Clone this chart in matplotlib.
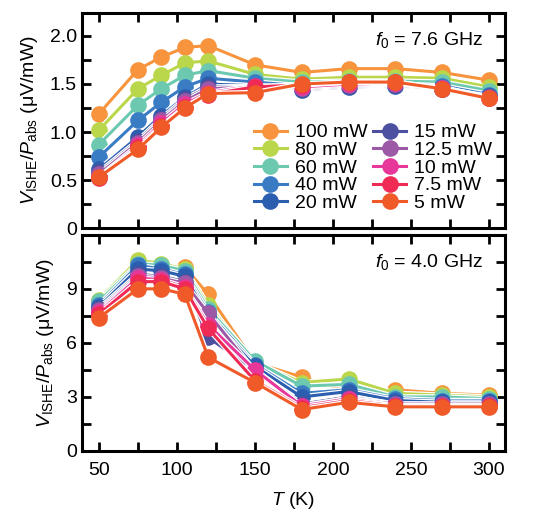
import matplotlib
matplotlib.use("Agg")
import matplotlib.pyplot as plt
from matplotlib.ticker import MultipleLocator

plt.rcParams['font.family'] = ['Liberation Sans', 'DejaVu Sans']
plt.rcParams['mathtext.fontset'] = 'custom'
plt.rcParams['mathtext.rm'] = 'Liberation Sans'
plt.rcParams['mathtext.it'] = 'Liberation Sans:italic'
plt.rcParams['font.size'] = 14

T = [50, 75, 90, 105, 120, 150, 180, 210, 240, 270, 300]
powers = ['100 mW', '80 mW', '60 mW', '40 mW', '20 mW',
          '15 mW', '12.5 mW', '10 mW', '7.5 mW', '5 mW']
colors = ['#F7943D', '#BAD64A', '#6CC9B0', '#3A7CC4', '#2B5EAE',
          '#4D4FA0', '#9B59A6', '#E8379A', '#EE2A55', '#F05A28']

# f0 = 7.6 GHz
v76_100 = [1.19, 1.65, 1.78, 1.88, 1.90, 1.70, 1.62, 1.66, 1.66, 1.62, 1.54]
v76_80 = [1.02, 1.45, 1.59, 1.72, 1.74, 1.60, 1.55, 1.57, 1.57, 1.56, 1.47]
v76_60 = [0.87, 1.28, 1.45, 1.59, 1.64, 1.56, 1.52, 1.53, 1.53, 1.52, 1.43]
v76_40 = [0.74, 1.12, 1.31, 1.47, 1.56, 1.52, 1.48, 1.50, 1.50, 1.48, 1.39]
v76_20 = [0.61, 0.95, 1.17, 1.36, 1.50, 1.48, 1.44, 1.47, 1.48, 1.45, 1.37]
v76_15 = [0.58, 0.91, 1.14, 1.34, 1.47, 1.47, 1.45, 1.48, 1.49, 1.45, 1.36]
v76_12 = [0.56, 0.89, 1.12, 1.32, 1.45, 1.47, 1.46, 1.49, 1.50, 1.46, 1.36]
v76_10 = [0.53, 0.86, 1.09, 1.29, 1.41, 1.48, 1.47, 1.50, 1.51, 1.46, 1.35]
v76_7 = [0.52, 0.84, 1.06, 1.26, 1.39, 1.47, 1.49, 1.52, 1.52, 1.45, 1.35]
v76_5 = [0.53, 0.82, 1.05, 1.25, 1.40, 1.41, 1.50, 1.52, 1.52, 1.45, 1.35]
data76 = [v76_100, v76_80, v76_60, v76_40, v76_20,
          v76_15, v76_12, v76_10, v76_7, v76_5]

# f0 = 4.0 GHz
v40_100 = [8.3, 10.5, 10.3, 10.2, 8.7, 4.9, 4.1, 3.3, 3.4, 3.2, 3.1]
v40_80 = [8.4, 10.6, 10.4, 10.1, 8.1, 4.9, 3.8, 4.0, 3.2, 3.1, 3.0]
v40_60 = [8.3, 10.4, 10.3, 10.0, 7.9, 5.0, 3.6, 3.7, 3.0, 3.0, 2.9]
v40_40 = [8.1, 10.3, 10.1, 9.8, 7.7, 4.8, 3.2, 3.4, 2.9, 2.8, 2.8]
v40_20 = [8.0, 10.1, 10.0, 9.7, 7.5, 4.7, 3.0, 3.3, 2.8, 2.7, 2.7]
v40_15 = [7.9, 9.8, 9.7, 9.4, 6.3, 4.5, 2.6, 3.0, 2.6, 2.6, 2.6]
v40_12 = [7.8, 9.7, 9.6, 9.3, 7.65, 4.4, 2.5, 2.9, 2.6, 2.6, 2.6]
v40_10 = [7.7, 9.6, 9.5, 9.1, 7.0, 4.5, 2.5, 2.9, 2.5, 2.5, 2.5]
v40_7 = [7.6, 9.4, 9.4, 9.0, 6.8, 3.9, 2.4, 2.8, 2.5, 2.5, 2.5]
v40_5 = [7.4, 9.0, 9.0, 8.7, 5.2, 3.8, 2.3, 2.7, 2.45, 2.45, 2.45]
data40 = [v40_100, v40_80, v40_60, v40_40, v40_20,
          v40_15, v40_12, v40_10, v40_7, v40_5]

fig = plt.figure(figsize=(5.49, 5.16), dpi=100)
ax1 = fig.add_axes([0.149, 0.558, 0.770, 0.417])
ax2 = fig.add_axes([0.149, 0.126, 0.770, 0.419])

for ax, data in [(ax1, data76), (ax2, data40)]:
    for i, (vals, c, lab) in enumerate(zip(data, colors, powers)):
        # thin white rim under each line
        ax.plot(T, vals, color='white', lw=4.0, zorder=2 * i + 2)
        ax.plot(T, vals, '-o', color=c, lw=2.2, ms=12, mec='none',
                zorder=2 * i + 3, label=lab)
    ax.set_xlim(39, 310)
    ax.xaxis.set_major_locator(MultipleLocator(50))
    ax.xaxis.set_minor_locator(MultipleLocator(25))
    ax.tick_params(which='both', direction='in', top=True, right=True,
                   length=6.5, width=2)
    ax.tick_params(axis='x', pad=8)
    for s in ax.spines.values():
        s.set_linewidth(2.2)
    ax.set_ylabel(r'$V_{\rm ISHE}/P_{\rm abs}$ (μV/mW)', labelpad=7)

ax1.set_ylim(0, 2.24)
ax1.yaxis.set_minor_locator(MultipleLocator(0.25))
ax1.set_yticks([0, 0.5, 1.0, 1.5, 2.0])
ax1.set_yticklabels(['0', '0.5', '1.0', '1.5', '2.0'])
ax1.tick_params(labelbottom=False)
ax1.text(0.95, 0.875, r'$f_0$ = 7.6 GHz', transform=ax1.transAxes,
         ha='right', va='center')
ax1.legend(ncol=2, loc='lower right', bbox_to_anchor=(0.97, 0.075),
           frameon=False, handlelength=1.7, handletextpad=0.4,
           columnspacing=0.3, labelspacing=0.0, borderaxespad=0,
           borderpad=0)

ax2.set_ylim(0, 12)
ax2.set_yticks([0, 3, 6, 9])
ax2.yaxis.set_minor_locator(MultipleLocator(1.5))
ax2.text(0.95, 0.875, r'$f_0$ = 4.0 GHz', transform=ax2.transAxes,
         ha='right', va='center')
ax2.set_xlabel(r'$T$ (K)', labelpad=8)

fig.savefig('out.png', dpi=100)
